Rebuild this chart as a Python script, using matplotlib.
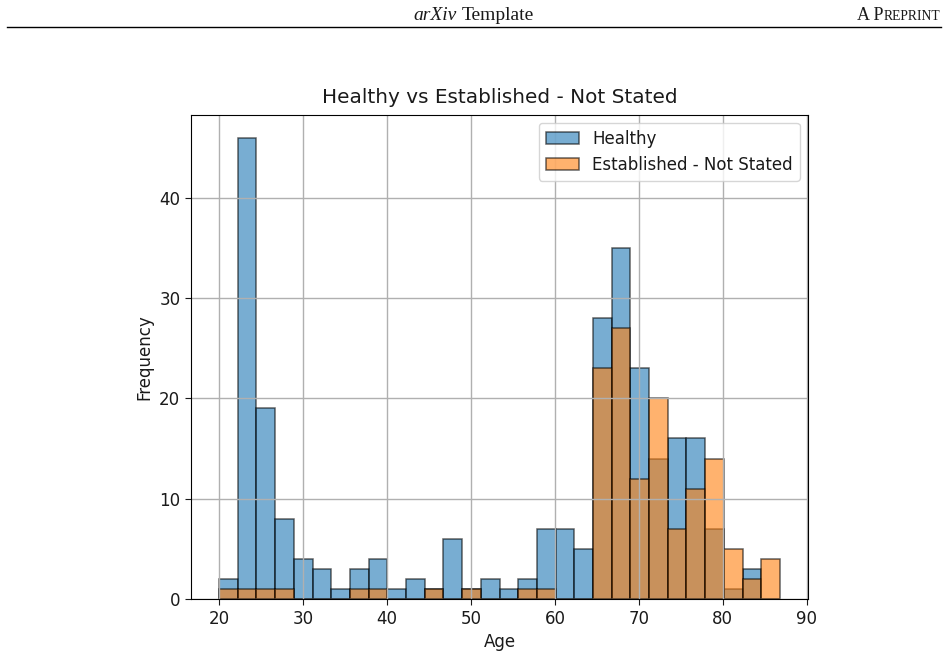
import numpy as np
import matplotlib
matplotlib.use("Agg")
import matplotlib.pyplot as plt

# bin edges (30 equal bins over the age range)
age_min = 20.0
age_max = 86.8
n_bins = 30

healthy = [2, 46, 19, 8, 4, 3, 1, 3, 4, 1,
           2, 1, 6, 1, 2, 1, 2, 7, 7, 5,
           28, 35, 23, 14, 16, 16, 7, 1, 3, 0]
established = [1, 1, 1, 1, 0, 0, 0, 1, 1, 0,
               0, 1, 0, 1, 0, 0, 1, 1, 0, 0,
               23, 27, 12, 20, 7, 11, 14, 5, 2, 4]

edges = np.linspace(age_min, age_max, n_bins + 1)
centers = (edges[:-1] + edges[1:]) / 2

plt.rcParams["font.size"] = 12
plt.rcParams["text.color"] = "#1a1a1a"
plt.rcParams["axes.labelcolor"] = "#1a1a1a"
plt.rcParams["xtick.color"] = "#1a1a1a"
plt.rcParams["ytick.color"] = "#1a1a1a"
plt.rcParams["xtick.major.size"] = 4.2
plt.rcParams["ytick.major.size"] = 4.2

fig = plt.figure(figsize=(9.48, 6.57), dpi=100)
ax = fig.add_axes([0.2015, 0.0883, 0.6508, 0.7374])

ax.hist(centers, bins=edges, weights=healthy, alpha=0.6,
        edgecolor="black", linewidth=1.1, label="Healthy")
ax.hist(centers, bins=edges, weights=established, alpha=0.6,
        edgecolor="black", linewidth=1.1, label="Established - Not Stated")

ax.set_title("Healthy vs Established - Not Stated", fontsize=14.4, pad=8)
ax.set_xlabel("Age")
ax.set_ylabel("Frequency")
ax.grid(True, linewidth=1.0)
ax.legend(loc="upper right")

# page header
serif = "Liberation Serif"
base_y = 1 - 20 / 657
t_a = fig.text(413 / 948, base_y, "arXiv", fontsize=14, family=serif,
               style="italic", ha="left", va="baseline")
fig.canvas.draw()
bb_a = t_a.get_window_extent()
fig.text(bb_a.x1 / 948 + 5 / 948, base_y, "Template", fontsize=14,
         family=serif, ha="left", va="baseline")
t1 = fig.text(940 / 948, base_y, "REPRINT", fontsize=9.8, family=serif,
              ha="right", va="baseline")
fig.canvas.draw()
bb = t1.get_window_extent()
fig.text(bb.x0 / 948, base_y, "A P", fontsize=13, family=serif,
         ha="right", va="baseline")
fig.add_artist(plt.Line2D([7 / 948, 941 / 948], [1 - 27 / 657, 1 - 27 / 657],
                          transform=fig.transFigure, color="black", lw=1.0))

fig.savefig("out.png", dpi=100)
